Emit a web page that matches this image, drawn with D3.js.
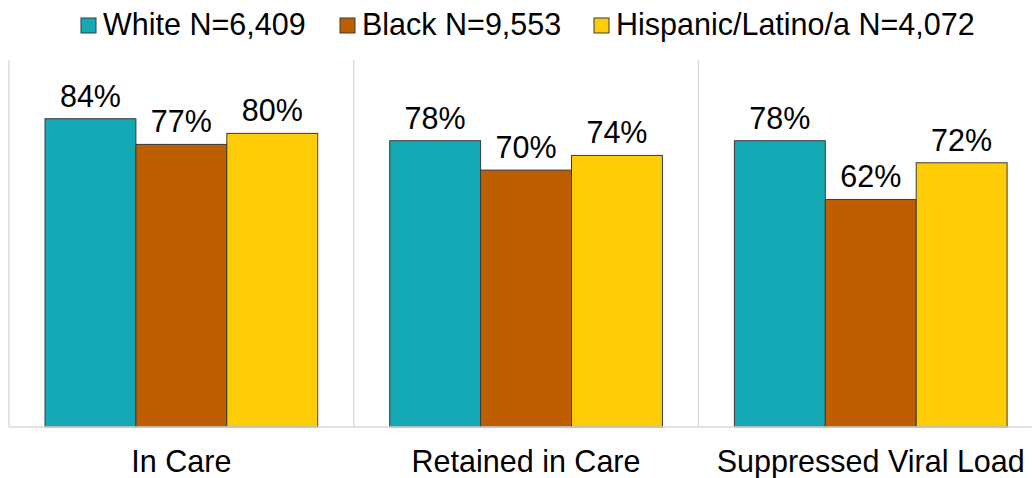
<!DOCTYPE html>
<html>
<head>
<meta charset="utf-8">
<script src="https://cdn.jsdelivr.net/npm/d3@7.9.0/dist/d3.min.js"></script>
<style>
  body { margin: 0; background: #fff; }
  svg { display: block; font-family: "Liberation Sans", Arial, sans-serif; }
</style>
</head>
<body>
<svg id="chart" width="1032" height="478"></svg>
<script>
// chart data
const categories = ['In Care', 'Retained in Care', 'Suppressed Viral Load'];
const groups = ['White N=6,409', 'Black N=9,553', 'Hispanic/Latino/a N=4,072'];
const white = [84, 78, 78];
const black = [77, 70, 62];
const hispanic = [80, 74, 72];
const colors = ['#15a9b6', '#bd5e00', '#ffcc08'];

const seriesValues = [white, black, hispanic];

const svg = d3.select('#chart');
const W = 1032;
const fontSize = 30.5;

// plot area
const plotLeft = 9, bandW = 344.7, plotTop = 60, plotBottom = 427;

let x0 = d3.scaleBand()
    .domain(categories)
    .range([plotLeft, plotLeft + bandW * categories.length])
    .paddingInner(0)
    .paddingOuter(0);

let x1 = d3.scaleBand()
    .domain(groups)
    .range([0, x0.bandwidth()])
    .paddingInner(0)
    .paddingOuter(0.396);

let y = d3.scaleLinear().domain([0, 100]).range([plotBottom, plotTop]);

// vertical separators between categories
svg.selectAll('line.sep')
    .data(categories)
    .join('line')
    .attr('class', 'sep')
    .attr('x1', d => x0(d)).attr('x2', d => x0(d))
    .attr('y1', 60).attr('y2', plotBottom)
    .attr('stroke', '#d9d9d9')
    .attr('stroke-width', 1.3);

// bars
categories.forEach((cat, ci) => {
    let g = svg.append('g').attr('transform', `translate(${x0(cat)},0)`);
    groups.forEach((grp, gi) => {
        let v = seriesValues[gi][ci];
        g.append('rect')
            .attr('x', x1(grp))
            .attr('y', y(v))
            .attr('width', x1.bandwidth())
            .attr('height', y(0) - y(v))
            .attr('fill', colors[gi])
            .attr('stroke', '#3a3a3a')
            .attr('stroke-width', 1);
        g.append('text')
            .attr('x', x1(grp) + x1.bandwidth() / 2)
            .attr('y', y(v) - 12)
            .attr('text-anchor', 'middle')
            .attr('font-size', fontSize)
            .attr('fill', '#000')
            .text(v + '%');
    });
});

// baseline
svg.append('line')
    .attr('x1', plotLeft).attr('x2', W)
    .attr('y1', plotBottom).attr('y2', plotBottom)
    .attr('stroke', '#d9d9d9')
    .attr('stroke-width', 1.5);

// category labels
svg.selectAll('text.cat')
    .data(categories)
    .join('text')
    .attr('class', 'cat')
    .attr('x', d => x0(d) + x0.bandwidth() / 2)
    .attr('y', 472)
    .attr('text-anchor', 'middle')
    .attr('font-size', fontSize)
    .attr('fill', '#000')
    .text(d => d);

// legend
const legendX = [81, 340, 594];
groups.forEach((grp, i) => {
    let lg = svg.append('g').attr('transform', `translate(${legendX[i]},0)`);
    lg.append('rect')
        .attr('x', 0).attr('y', 18)
        .attr('width', 15).attr('height', 15)
        .attr('fill', colors[i])
        .attr('stroke', '#3a3a3a')
        .attr('stroke-width', 1);
    lg.append('text')
        .attr('x', 22).attr('y', 35)
        .attr('font-size', fontSize)
        .attr('fill', '#000')
        .text(grp);
});
</script>
</body>
</html>
